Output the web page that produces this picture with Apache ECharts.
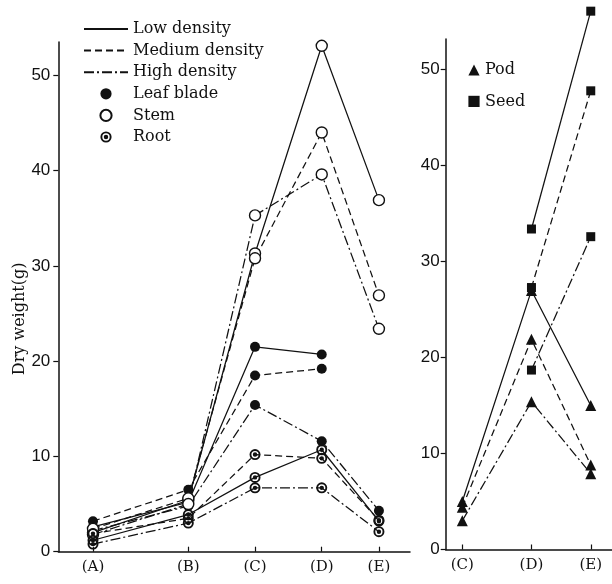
<!DOCTYPE html>
<html>
<head>
<meta charset="utf-8">
<script src="https://cdn.jsdelivr.net/npm/echarts@6/dist/echarts.min.js"></script>
<style>
html,body{margin:0;padding:0;background:#fff;}
#c{width:612px;height:584px;}
</style>
</head>
<body>
<div id="c"></div>
<script>
// ---- data ----
const stageLabels = ['(A)', '(B)', '(C)', '(D)', '(E)'];
const stagePos = [0, 1, 1.7, 2.4, 3.0];
const yTicks = [0, 10, 20, 30, 40, 50];

// Left panel (stages A–E)
const leafLow    = [2.6, 5.2, 21.5, 20.7, null];
const leafMedium = [3.2, 6.5, 18.5, 19.2, null];
const leafHigh   = [2.2, 4.8, 15.4, 11.6, 4.3];
const stemLow    = [2.0, 5.4, 31.3, 53.1, 36.9];
const stemMedium = [2.4, 5.6, 30.8, 44.0, 26.9];
const stemHigh   = [1.8, 5.0, 35.3, 39.6, 23.4];
const rootLow    = [1.2, 3.9, 7.8, 10.7, 3.2];
const rootMedium = [1.9, 3.5, 10.2, 9.8, 3.3];
const rootHigh   = [0.8, 3.0, 6.7, 6.7, 2.1];

// Right panel (stages C–E)
const podLow     = [5.0, 27.0, 15.0];
const podMedium  = [4.4, 21.9, 8.8];
const podHigh    = [3.0, 15.4, 7.9];
const seedLow    = [null, 33.4, 56.1];
const seedMedium = [null, 27.3, 47.8];
const seedHigh   = [null, 18.7, 32.6];

// ---- styles ----
const INK = '#111';
const SERIF = "'DejaVu Serif', 'Liberation Serif', serif";
const NUMF = "'Liberation Sans Narrow', 'Liberation Sans', sans-serif";
const dashTypes = { low: 'solid', medium: [7, 4], high: [10, 3, 2, 3] };
const ROOT_PATH = 'path://M0,-10A10,10,0,1,1,0,10A10,10,0,1,1,0,-10Z' +
  'M0,-6.6A6.6,6.6,0,1,0,0,6.6A6.6,6.6,0,1,0,0,-6.6Z' +
  'M0,-4A4,4,0,1,1,0,4A4,4,0,1,1,0,-4Z';
const markers = {
  leaf: { symbol: 'circle', size: 10, itemStyle: { color: INK, borderWidth: 0 } },
  stem: { symbol: 'circle', size: 11, itemStyle: { color: '#fff', borderColor: INK, borderWidth: 1.4 } },
  root: { symbol: ROOT_PATH, size: 11, itemStyle: { color: INK, borderWidth: 0 } },
  pod:  { symbol: 'triangle', size: 11, itemStyle: { color: INK, borderWidth: 0 } },
  seed: { symbol: 'rect', size: 9, itemStyle: { color: INK, borderWidth: 0 } }
};

function pairs(vals, positions) {
  return vals.map((v, i) => [positions[i], v]);
}
function mkSeries(name, vals, positions, organ, density, gridIdx) {
  const m = markers[organ];
  return {
    name: name, type: 'line',
    xAxisIndex: gridIdx, yAxisIndex: gridIdx,
    data: pairs(vals, positions),
    symbol: m.symbol, symbolSize: m.size, symbolKeepAspect: true,
    showSymbol: true, clip: false, connectNulls: false,
    itemStyle: m.itemStyle,
    lineStyle: { color: INK, width: 1.25, type: dashTypes[density] },
    emphasis: { disabled: true }, silent: true, animation: false, z: 3
  };
}
function legendDummy(name, organ, density, gridIdx) {
  const s = {
    name: name, type: 'line', data: [], xAxisIndex: gridIdx, yAxisIndex: gridIdx,
    animation: false, silent: true
  };
  if (organ) {
    const m = markers[organ];
    s.symbol = m.symbol; s.symbolSize = m.size; s.symbolKeepAspect = true;
    s.itemStyle = m.itemStyle;
    s.lineStyle = { color: INK, opacity: 0, width: 1 };
  } else {
    s.symbol = 'none';
    s.itemStyle = { color: INK };
    s.lineStyle = { color: INK, width: 1.3, type: dashTypes[density] };
  }
  return s;
}

const leftPos = stagePos;
const rightPos = stagePos.slice(2);
const series = [
  legendDummy('Low density', null, 'low', 0),
  legendDummy('Medium density', null, 'medium', 0),
  legendDummy('High density', null, 'high', 0),
  legendDummy('Leaf blade', 'leaf', null, 0),
  legendDummy('Stem', 'stem', null, 0),
  legendDummy('Root', 'root', null, 0),
  legendDummy('Pod', 'pod', null, 1),
  legendDummy('Seed', 'seed', null, 1),
  mkSeries('leaf-low', leafLow, leftPos, 'leaf', 'low', 0),
  mkSeries('leaf-medium', leafMedium, leftPos, 'leaf', 'medium', 0),
  mkSeries('leaf-high', leafHigh, leftPos, 'leaf', 'high', 0),
  mkSeries('stem-low', stemLow, leftPos, 'stem', 'low', 0),
  mkSeries('stem-medium', stemMedium, leftPos, 'stem', 'medium', 0),
  mkSeries('stem-high', stemHigh, leftPos, 'stem', 'high', 0),
  mkSeries('root-low', rootLow, leftPos, 'root', 'low', 0),
  mkSeries('root-medium', rootMedium, leftPos, 'root', 'medium', 0),
  mkSeries('root-high', rootHigh, leftPos, 'root', 'high', 0),
  mkSeries('pod-low', podLow, rightPos, 'pod', 'low', 1),
  mkSeries('pod-medium', podMedium, rightPos, 'pod', 'medium', 1),
  mkSeries('pod-high', podHigh, rightPos, 'pod', 'high', 1),
  mkSeries('seed-low', seedLow, rightPos, 'seed', 'low', 1),
  mkSeries('seed-medium', seedMedium, rightPos, 'seed', 'medium', 1),
  mkSeries('seed-high', seedHigh, rightPos, 'seed', 'high', 1)
];

function nearestLabel(v) {
  let best = 0, d = Infinity;
  stagePos.forEach((p, i) => { if (Math.abs(p - v) < d) { d = Math.abs(p - v); best = i; } });
  return stageLabels[best];
}
function xAxisCfg(gridIdx, min, max, positions) {
  return {
    gridIndex: gridIdx, type: 'value', min: min, max: max,
    axisLine: { show: true, onZero: false, lineStyle: { color: INK, width: 1.5 } },
    axisTick: { show: true, inside: true, length: 5, customValues: positions, lineStyle: { color: INK, width: 1.2 } },
    axisLabel: { show: true, customValues: positions, formatter: nearestLabel, margin: 8,
      color: INK, fontFamily: SERIF, fontSize: 15 },
    splitLine: { show: false }
  };
}
function yAxisCfg(gridIdx, max, extra) {
  return Object.assign({
    gridIndex: gridIdx, type: 'value', min: 0, max: max,
    axisLine: { show: true, onZero: false, lineStyle: { color: INK, width: 1.5 } },
    axisTick: { show: true, inside: false, length: 5, customValues: yTicks, lineStyle: { color: INK, width: 1.2 } },
    axisLabel: { show: true, customValues: yTicks, margin: 8, color: INK, fontFamily: NUMF, fontSize: 17 },
    splitLine: { show: false }
  }, extra || {});
}

const lineLegendItem = (n) => ({ name: n, itemStyle: { opacity: 0 } });

const option = {
  backgroundColor: '#fff',
  animation: false,
  grid: [
    { left: 58.3, top: 42, width: 351.7, height: 509.7, containLabel: false },
    { left: 445.7, top: 39, width: 166.3, height: 510.5, containLabel: false }
  ],
  xAxis: [
    xAxisCfg(0, -0.364, 3.326, leftPos),
    xAxisCfg(1, 1.532, 3.215, rightPos)
  ],
  yAxis: [
    yAxisCfg(0, 53.5, {
      name: 'Dry weight(g)', nameLocation: 'middle', nameRotate: 90, nameGap: 30,
      nameMoveOverlap: false,
      nameTextStyle: { color: INK, fontFamily: SERIF, fontSize: 16, padding: [0, 44, 0, 0] }
    }),
    yAxisCfg(1, 53.2, { axisLabel: { show: true, customValues: yTicks, margin: 6, color: INK, fontFamily: NUMF, fontSize: 17 } })
  ],
  legend: [
    {
      orient: 'vertical', left: 83, top: 21, padding: 0, itemWidth: 44, itemHeight: 14, itemGap: 5.6,
      selectedMode: false,
      textStyle: { color: INK, fontFamily: SERIF, fontSize: 16 },
      data: [
        lineLegendItem('Low density'), lineLegendItem('Medium density'), lineLegendItem('High density'),
        { name: 'Leaf blade' }, { name: 'Stem' }, { name: 'Root' }
      ]
    },
    {
      orient: 'vertical', left: 467, top: 62, padding: 0, itemWidth: 12, itemHeight: 14, itemGap: 15.4,
      selectedMode: false,
      textStyle: { color: INK, fontFamily: SERIF, fontSize: 16 },
      data: [{ name: 'Pod' }, { name: 'Seed' }]
    }
  ],
  series: series
};

const chart = echarts.init(document.getElementById('c'), null, { renderer: 'canvas' });
chart.setOption(option);
</script>
</body>
</html>
